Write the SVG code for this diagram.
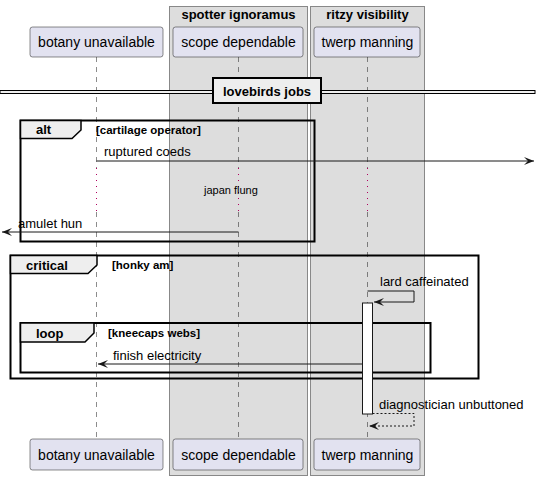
<svg xmlns="http://www.w3.org/2000/svg" width="541" height="480" viewBox="0 0 541 480">
<defs>
<style>
.grp{fill:#DDDDDD;stroke:#888888;stroke-width:1}
.gt{font-family:"Liberation Sans",Arial,sans-serif;font-size:13px;font-weight:bold;fill:#000}
.pb{fill:#E2E2F0;stroke:#181818;stroke-width:0.5}
.pt{font-family:"Liberation Sans",Arial,sans-serif;font-size:14px;fill:#000}
.ll{stroke:#181818;stroke-width:0.5;stroke-dasharray:5,5;fill:none}
.dl{stroke:#B0005F;stroke-width:1;stroke-dasharray:1,5;fill:none}
.fr{fill:none;stroke:#000;stroke-width:2}
.tab{fill:#EEEEEE;stroke:#000;stroke-width:1.5}
.ft{font-family:"Liberation Sans",Arial,sans-serif;font-size:13px;font-weight:bold;fill:#000}
.fc{font-family:"Liberation Sans",Arial,sans-serif;font-size:11.5px;font-weight:bold;fill:#000}
.msg{stroke:#181818;stroke-width:1;fill:none}
.ret{stroke:#181818;stroke-width:1;fill:none;stroke-dasharray:2,2}
.mt{font-family:"Liberation Sans",Arial,sans-serif;font-size:13px;fill:#000}
.st{font-family:"Liberation Sans",Arial,sans-serif;font-size:11px;fill:#000}
</style>
<marker id="ah" markerUnits="userSpaceOnUse" markerWidth="12" markerHeight="10" refX="10" refY="4" orient="auto" viewBox="0 0 12 10">
<path d="M0,0 L10,4 L0,8 L4,4 Z" fill="#181818"/>
</marker>
</defs>
<rect width="541" height="480" fill="#FFFFFF"/>

<g id="box-spotter">
<rect class="grp" x="169.5" y="6.5" width="138" height="469"/>
<text class="gt" x="238.5" y="19" text-anchor="middle">spotter ignoramus</text>
</g>
<g id="box-ritzy">
<rect class="grp" x="310.5" y="6.5" width="114" height="469"/>
<text class="gt" x="367.5" y="19" text-anchor="middle">ritzy visibility</text>
</g>

<g id="lifelines">
<path class="ll" d="M96.5,57 V168 M96.5,212 V439"/>
<path class="dl" d="M96.5,168 V212"/>
<path class="ll" d="M238.5,57 V168 M238.5,212 V439"/>
<path class="dl" d="M238.5,168 V212"/>
<path class="ll" d="M367.5,57 V168 M367.5,212 V439"/>
<path class="dl" d="M367.5,168 V212"/>
</g>

<g id="botany">
<rect class="pb" x="30" y="27" width="133" height="30" rx="2.5"/>
<text class="pt" x="96.5" y="47" text-anchor="middle">botany unavailable</text>
<rect class="pb" x="30" y="439" width="133" height="31" rx="2.5"/>
<text class="pt" x="96.5" y="460" text-anchor="middle">botany unavailable</text>
</g>
<g id="scope">
<rect class="pb" x="173" y="27" width="130" height="30" rx="2.5"/>
<text class="pt" x="238.5" y="47" text-anchor="middle">scope dependable</text>
<rect class="pb" x="173" y="439" width="130" height="31" rx="2.5"/>
<text class="pt" x="238.5" y="460" text-anchor="middle">scope dependable</text>
</g>
<g id="twerp">
<rect class="pb" x="314" y="27" width="106" height="30" rx="2.5"/>
<text class="pt" x="367.5" y="47" text-anchor="middle">twerp manning</text>
<rect class="pb" x="314" y="439" width="106" height="31" rx="2.5"/>
<text class="pt" x="367.5" y="460" text-anchor="middle">twerp manning</text>
</g>

<g id="divider">
<rect x="0" y="90.5" width="535" height="3" fill="#EEEEEE" stroke="#000" stroke-width="1"/>
<rect x="213" y="78" width="108" height="25" fill="#EEEEEE" stroke="#000" stroke-width="2"/>
<text class="ft" x="267" y="96" text-anchor="middle">lovebirds jobs</text>
</g>

<g id="frame-alt">
<rect class="fr" x="20.5" y="120.5" width="294" height="121"/>
<path class="tab" d="M20.5,120.5 H81 V130 L72,138.5 H20.5 Z"/>
<text class="ft" x="36" y="134">alt</text>
<text class="fc" x="96" y="134">[cartilage operator]</text>
</g>

<g id="frame-critical">
<rect class="fr" x="10.5" y="255.5" width="468" height="123"/>
<path class="tab" d="M10.5,255.5 H97 V265 L88,273.5 H10.5 Z"/>
<text class="ft" x="26" y="270">critical</text>
<text class="fc" x="112" y="269">[honky am]</text>
</g>

<g id="frame-loop">
<rect class="fr" x="20.5" y="323" width="410" height="49.5"/>
<path class="tab" d="M20.5,323 H94 V333 L85,342 H20.5 Z"/>
<text class="ft" x="36" y="338">loop</text>
<text class="fc" x="108" y="337">[kneecaps webs]</text>
</g>

<g id="activation">
<rect x="362.5" y="303" width="10" height="111" fill="#FFFFFF" stroke="#181818" stroke-width="1"/>
</g>

<g id="connectors">
<line class="msg" x1="96.5" y1="161" x2="534" y2="161" marker-end="url(#ah)"/>
<text class="mt" x="104" y="156">ruptured coeds</text>
<text class="st" x="204" y="194">japan flung</text>
<line class="msg" x1="238.5" y1="232" x2="2" y2="232" marker-end="url(#ah)"/>
<text class="mt" x="18" y="228">amulet hun</text>
<polyline class="msg" points="367.5,291 414,291 414,302 374,302" marker-end="url(#ah)"/>
<text class="mt" x="380" y="286">lard caffeinated</text>
<line class="msg" x1="362.5" y1="364" x2="98" y2="364" marker-end="url(#ah)"/>
<text class="mt" x="113" y="360">finish electricity</text>
<polyline class="ret" points="372.5,413.5 414,413.5 414,426 369,426" marker-end="url(#ah)"/>
<text class="mt" x="379" y="409">diagnostician unbuttoned</text>
</g>
</svg>
